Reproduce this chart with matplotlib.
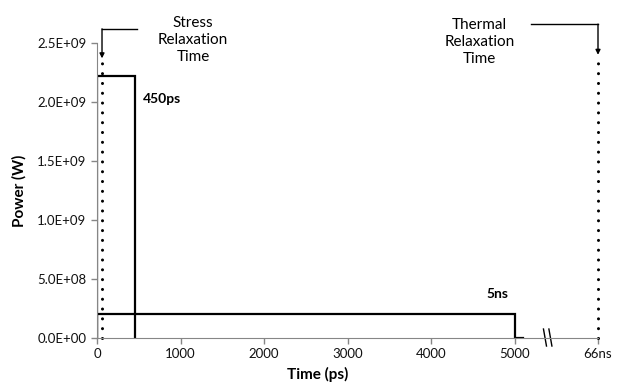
from matplotlib import pyplot as plt

# pulse traces (time in ps, power in W)
time_450ps = [0, 0, 450, 450]
power_450ps = [0, 2.22e9, 2.22e9, 0]
time_5ns = [0, 0, 5000, 5000, 5100]
power_5ns = [0, 2.0e8, 2.0e8, 0, 0]

stress_time = 60      # ps
thermal_time = 6000   # axis position used for 66 ns
break_pos = [5365, 5430]

xticks = [0, 1000, 2000, 3000, 4000, 5000, 6000]
xtick_labels = ["0", "1000", "2000", "3000", "4000", "5000", "66ns"]
yticks = [0, 5e8, 1e9, 1.5e9, 2e9, 2.5e9]
ytick_labels = ["0.0E+00", "5.0E+08", "1.0E+09", "1.5E+09", "2.0E+09", "2.5E+09"]

plt.rcParams['font.family'] = ['Lato', 'DejaVu Sans']
plt.rcParams['font.size'] = 9

fig = plt.figure(figsize=(6.22, 3.85), dpi=100)
ax = fig.add_axes([97/622, 1-338/385, 501/622, 295/385])

ax.plot(time_450ps, power_450ps, color="black", lw=1.6, solid_joinstyle="miter")
ax.plot(time_5ns, power_5ns, color="black", lw=1.6, solid_joinstyle="miter")

dot = (0, (0.01, 3.2))
ax.plot([stress_time, stress_time], [0, 2.34e9], color="black", lw=2.2,
        linestyle=dot, dash_capstyle="round", clip_on=False)
ax.plot([thermal_time, thermal_time], [0, 2.35e9], color="black", lw=2.2,
        linestyle=dot, dash_capstyle="round", clip_on=False)

# arrows from the labels
ax.annotate("", xy=(stress_time, 2.37e9), xytext=(stress_time, 2.62e9),
            arrowprops=dict(arrowstyle="-|>", color="black", lw=1, mutation_scale=7,
                            shrinkA=0, shrinkB=0),
            annotation_clip=False)
ax.plot([stress_time, 478], [2.62e9, 2.62e9], color="black", lw=1, clip_on=False)
ax.annotate("", xy=(thermal_time, 2.40e9), xytext=(thermal_time, 2.66e9),
            arrowprops=dict(arrowstyle="-|>", color="black", lw=1, mutation_scale=7,
                            shrinkA=0, shrinkB=0),
            annotation_clip=False)
ax.plot([5200, thermal_time], [2.66e9, 2.66e9], color="black", lw=1, clip_on=False)

ax.text(1150, 2.525e9, "Stress\nRelaxation\nTime", ha="center", va="center",
        fontsize=11, linespacing=1.3)
ax.text(4580, 2.51e9, "Thermal\nRelaxation\nTime", ha="center", va="center",
        fontsize=11, linespacing=1.3)
ax.text(550, 2.025e9, "450ps", fontsize=10, fontweight="bold", va="center")
ax.text(4665, 3.73e8, "5ns", fontsize=10, fontweight="bold", va="center")

# axis break mark
for bx in break_pos:
    ax.plot([bx - 18, bx + 18], [0.76e8, -0.68e8], color="black", lw=1, clip_on=False)

ax.set_xlim(0, 6000)
ax.set_ylim(0, 2.5e9)
ax.set_xticks(xticks, labels=xtick_labels)
ax.set_yticks(yticks, labels=ytick_labels)
ax.spines[["top", "right"]].set_visible(False)
ax.spines[["left", "bottom"]].set_color("#868686")
ax.tick_params(color="#868686", length=4, width=1, labelsize=9.5, labelcolor="#111111")
xl = ax.set_xlabel("Time (ps)", fontsize=11, fontweight="bold")
xl.set_va("center")
ax.xaxis.set_label_coords((318-97)/501, -0.125)
ax.set_ylabel("Power (W)", fontsize=11, fontweight="bold", labelpad=8)

plt.savefig("out.png", dpi=100)
